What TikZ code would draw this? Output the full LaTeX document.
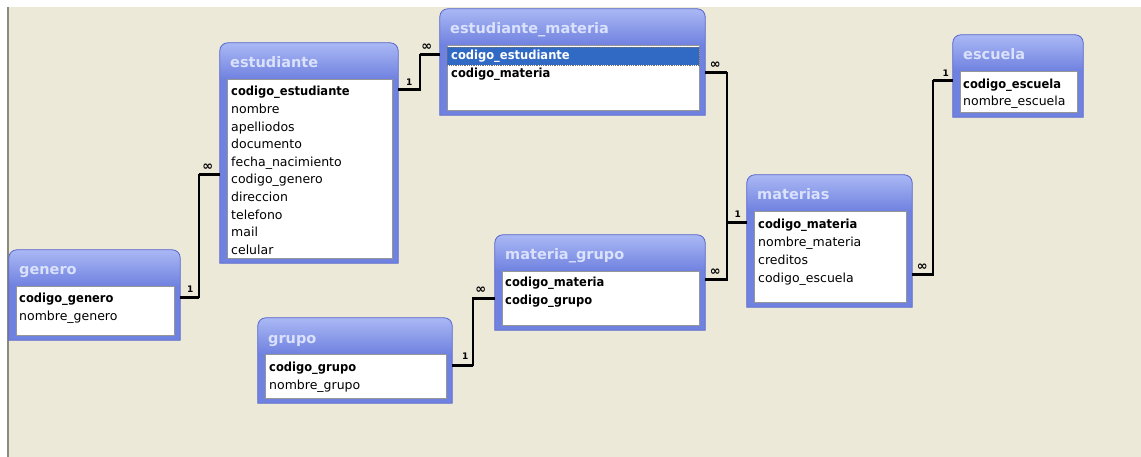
\documentclass[tikz,border=0pt]{standalone}
\usepackage{fontspec}
\setmainfont{DejaVu Sans}
\newfontfamily\keyfont[FakeStretch=0.92]{DejaVu Sans}

\definecolor{desk}{RGB}{236,233,216}
\definecolor{deskedge}{RGB}{140,138,125}
\definecolor{tblTop}{RGB}{170,184,244}
\definecolor{tblBody}{RGB}{112,130,224}
\definecolor{tblEdge}{RGB}{88,104,206}
\definecolor{ttl}{RGB}{218,225,252}
\definecolor{listedge}{RGB}{150,150,150}
\definecolor{selrow}{RGB}{49,106,197}

% outline of a table window: rounded top corners, square bottom
\newcommand\tblpath[1]{(#1.south west) -- ([yshift=-8pt]#1.north west)
  arc[start angle=180, end angle=90, radius=8pt]
  -- ([xshift=-8pt]#1.north east)
  arc[start angle=90, end angle=0, radius=8pt]
  -- (#1.south east) -- cycle}

% table window: name, left, top, right, bottom, title
\newcommand\dbtable[6]{%
  \node[tblholder, minimum width={#4-#2}, minimum height={#5-#3}]
    (#1) at ({(#2+#4)/2},{(#3+#5)/2}) {};
  \fill[tblBody] \tblpath{#1};
  \begin{scope}
    \clip \tblpath{#1};
    \shade[top color=tblTop, bottom color=tblBody]
      (#1.north west) rectangle ([yshift=-36pt]#1.north east);
  \end{scope}
  \draw[tblEdge, line width=0.8pt] \tblpath{#1};
  \node[listbox, minimum width={#4-#2-13}, minimum height={#5-#3-41}]
    (#1-list) at (#2+7,#3+36) {};
  \node[titletext] (#1-title) at (#2+10,#3+25) {#6};
}

\begin{document}
\begin{tikzpicture}[x=1pt,y=-1pt,
  tblholder/.style={rectangle, draw=none, inner sep=0pt},
  listbox/.style={rectangle, anchor=north west, fill=white, draw=listedge,
    line width=1pt, inner sep=0pt},
  titletext/.style={anchor=base west, inner sep=0pt, text=ttl,
    font=\fontsize{14.5}{17}\selectfont\bfseries},
  fieldtext/.style={anchor=base west, inner sep=0pt, text=black,
    font=\fontsize{12.5}{15}\selectfont},
  keytext/.style={anchor=base west, inner sep=0pt, text=black,
    font=\keyfont\fontsize{12.5}{15}\selectfont\bfseries},
  selbox/.style={rectangle, anchor=north west, inner sep=0pt, fill=selrow,
    draw=black!55, densely dotted, line width=0.8pt},
  relthin/.style={draw=black, line width=1.2pt},
  relthick/.style={draw=black, line width=3pt},
  mult/.style={inner sep=0pt, text=black,
    font=\fontsize{9}{10}\selectfont\bfseries},
  many/.style={inner sep=0pt, text=black,
    font=\fontsize{13}{14}\selectfont\bfseries},
]
\useasboundingbox (0,0) rectangle (1141,457);

% desktop background
\fill[white] (0,0) rectangle (1141,457);
\fill[desk] (9,7) rectangle (1141,457);
\fill[deskedge] (7,7) rectangle (9,457);

% ---- tables ----
\dbtable{genero}{9}{250}{180}{340}{genero}
\node[keytext]   (gen-1) at (19,302) {codigo\_genero};
\node[fieldtext] (gen-2) at (19,320) {nombre\_genero};

\dbtable{est}{220}{43}{398}{263}{estudiante}
\node[keytext]   (est-1)  at (231,96)    {codigo\_estudiante};
\node[fieldtext] (est-2)  at (231,113.6) {nombre};
\node[fieldtext] (est-3)  at (231,131.2) {apelliodos};
\node[fieldtext] (est-4)  at (231,148.8) {documento};
\node[fieldtext] (est-5)  at (231,166.4) {fecha\_nacimiento};
\node[fieldtext] (est-6)  at (231,184)   {codigo\_genero};
\node[fieldtext] (est-7)  at (231,201.6) {direccion};
\node[fieldtext] (est-8)  at (231,219.2) {telefono};
\node[fieldtext] (est-9)  at (231,236.8) {mail};
\node[fieldtext] (est-10) at (231,254.4) {celular};

\dbtable{estmat}{440}{9}{705}{115}{estudiante\_materia}
\node[selbox, minimum width=252, minimum height=18] (estmat-sel) at (447,47) {};
\node[keytext, text=white] (estmat-1) at (451,60) {codigo\_estudiante};
\node[keytext]             (estmat-2) at (451,78) {codigo\_materia};

\dbtable{esc}{953}{35}{1083}{117}{escuela}
\node[keytext]   (esc-1) at (963,89)  {codigo\_escuela};
\node[fieldtext] (esc-2) at (963,106) {nombre\_escuela};

\dbtable{mat}{747}{175}{912}{307}{materias}
\node[keytext]   (mat-1) at (758,229) {codigo\_materia};
\node[fieldtext] (mat-2) at (758,247) {nombre\_materia};
\node[fieldtext] (mat-3) at (758,265) {creditos};
\node[fieldtext] (mat-4) at (758,283) {codigo\_escuela};

\dbtable{matgr}{495}{235}{705}{330}{materia\_grupo}
\node[keytext] (matgr-1) at (505,287) {codigo\_materia};
\node[keytext] (matgr-2) at (505,305) {codigo\_grupo};

\dbtable{gru}{258}{318}{452}{403}{grupo}
\node[keytext]   (gru-1) at (269,371) {codigo\_grupo};
\node[fieldtext] (gru-2) at (269,389) {nombre\_grupo};

% ---- relationship end points ----
\coordinate (r1a) at ([yshift=5pt]genero.east |- gen-1.base);
\coordinate (r1b) at ([yshift=9pt]est.west |- est-6.base);
\coordinate (r2a) at ([yshift=6pt]est.east |- est-1.base);
\coordinate (r2b) at ([yshift=5pt]estmat.west |- estmat-1.base);
\coordinate (r3a) at ([yshift=5pt]estmat.east |- estmat-2.base);
\coordinate (r3b) at ([yshift=6pt]mat.west |- mat-1.base);
\coordinate (r4a) at ([yshift=7pt]matgr.east |- matgr-1.base);
\coordinate (r5a) at ([yshift=8pt]mat.east |- mat-4.base);
\coordinate (r5b) at ([yshift=8pt]esc.west |- esc-1.base);
\coordinate (r6a) at ([yshift=6pt]gru.east |- gru-1.base);
\coordinate (r6b) at ([yshift=7pt]matgr.west |- matgr-2.base);

% vertical runs of the connectors
\coordinate (j1) at (199,0);
\coordinate (j2) at (420,0);
\coordinate (j3) at (727,0);
\coordinate (j5) at (933,0);
\coordinate (j6) at (473,0);

% ---- relationships ----
\foreach \a/\b/\j in {r1a/r1b/j1, r2a/r2b/j2, r3a/r3b/j3, r4a/r3b/j3,
                      r5a/r5b/j5, r6a/r6b/j6}{
  \draw[relthin] (\a) -- (\a -| \j) -- (\b -| \j) -- (\b);
  \draw[relthick] (\a) -- (\a -| \j);
  \draw[relthick] (\b) -- (\b -| \j);
}

% multiplicity marks
\node[mult] (m1a) at ([shift={(10,-8)}]r1a)  {1};
\node[many] (m1b) at ([shift={(-12,-8)}]r1b) {∞};
\node[mult] (m2a) at ([shift={(11,-8)}]r2a)  {1};
\node[many] (m2b) at ([shift={(-13,-8)}]r2b) {∞};
\node[many] (m3a) at ([shift={(10,-8)}]r3a)  {∞};
\node[mult] (m3b) at ([shift={(-9,-9)}]r3b)  {1};
\node[many] (m4a) at ([shift={(10,-8)}]r4a)  {∞};
\node[many] (m5a) at ([shift={(10,-8)}]r5a)  {∞};
\node[mult] (m5b) at ([shift={(-7,-8)}]r5b)  {1};
\node[mult] (m6a) at ([shift={(13,-9)}]r6a)  {1};
\node[many] (m6b) at ([shift={(-14,-8)}]r6b) {∞};
\end{tikzpicture}
\end{document}
